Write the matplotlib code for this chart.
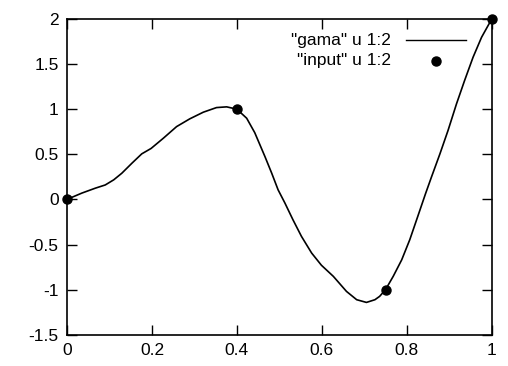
import matplotlib
matplotlib.use("Agg")
import matplotlib.pyplot as plt

plt.rcParams['font.family'] = ['Liberation Sans', 'DejaVu Sans']

gama_x = [0.0, 0.035, 0.067, 0.09, 0.11, 0.129, 0.153, 0.176, 0.198, 0.227,
          0.258, 0.289, 0.321, 0.352, 0.376, 0.4, 0.423, 0.442, 0.466, 0.482,
          0.497, 0.513, 0.532, 0.552, 0.576, 0.599, 0.627, 0.658, 0.682, 0.705,
          0.725, 0.736, 0.75, 0.768, 0.788, 0.807, 0.825, 0.844, 0.858, 0.878,
          0.897, 0.917, 0.936, 0.956, 0.976, 1.0]
gama_y = [0.0, 0.07, 0.125, 0.16, 0.217, 0.29, 0.402, 0.505, 0.565, 0.679,
          0.807, 0.893, 0.967, 1.018, 1.026, 1.0, 0.9, 0.74, 0.475, 0.29,
          0.106, -0.04, -0.226, -0.41, -0.595, -0.73, -0.853, -1.02, -1.112, -1.142,
          -1.112, -1.075, -1.0, -0.853, -0.67, -0.447, -0.2, 0.062, 0.247, 0.505,
          0.763, 1.059, 1.317, 1.576, 1.797, 2.0]

input_x = [0.0, 0.4, 0.75, 1.0]
input_y = [0.0, 1.0, -1.0, 2.0]

xticks = [0, 0.2, 0.4, 0.6, 0.8, 1]
xticklabels = ['0', '0.2', '0.4', '0.6', '0.8', '1']
yticks = [-1.5, -1, -0.5, 0, 0.5, 1, 1.5, 2]
yticklabels = ['-1.5', '-1', '-0.5', '0', '0.5', '1', '1.5', '2']

fig = plt.figure(figsize=(5.08, 3.66), dpi=100)
ax = fig.add_axes([0.1319, 0.0855, 0.8361, 0.8626])

ax.plot(gama_x, gama_y, color='black', lw=1.2, clip_on=False,
        solid_joinstyle='round')
ax.plot(input_x, input_y, 'o', color='black', markersize=6.5, clip_on=False, zorder=5)

ax.set_xlim(0, 1)
ax.set_ylim(-1.5, 2)
ax.set_xticks(xticks)
ax.set_xticklabels(xticklabels)
ax.set_yticks(yticks)
ax.set_yticklabels(yticklabels)
ax.tick_params(direction='in', length=7, width=1, top=True, right=True,
               labelsize=12.5, pad=6)
for s in ax.spines.values():
    s.set_linewidth(1.2)

# gnuplot-style key (text right-aligned, sample to the right)
ax.text(0.762, 0.933, '"gama" u 1:2', transform=ax.transAxes, ha='right',
        va='center', fontsize=12.5)
ax.text(0.762, 0.867, '"input" u 1:2', transform=ax.transAxes, ha='right',
        va='center', fontsize=12.5)
ax.plot([0.797, 0.939], [0.933, 0.933], color='black', lw=1.0, transform=ax.transAxes)
ax.plot([0.868], [0.867], 'o', color='black', markersize=6.5, transform=ax.transAxes)

fig.savefig('out.png', dpi=100)
